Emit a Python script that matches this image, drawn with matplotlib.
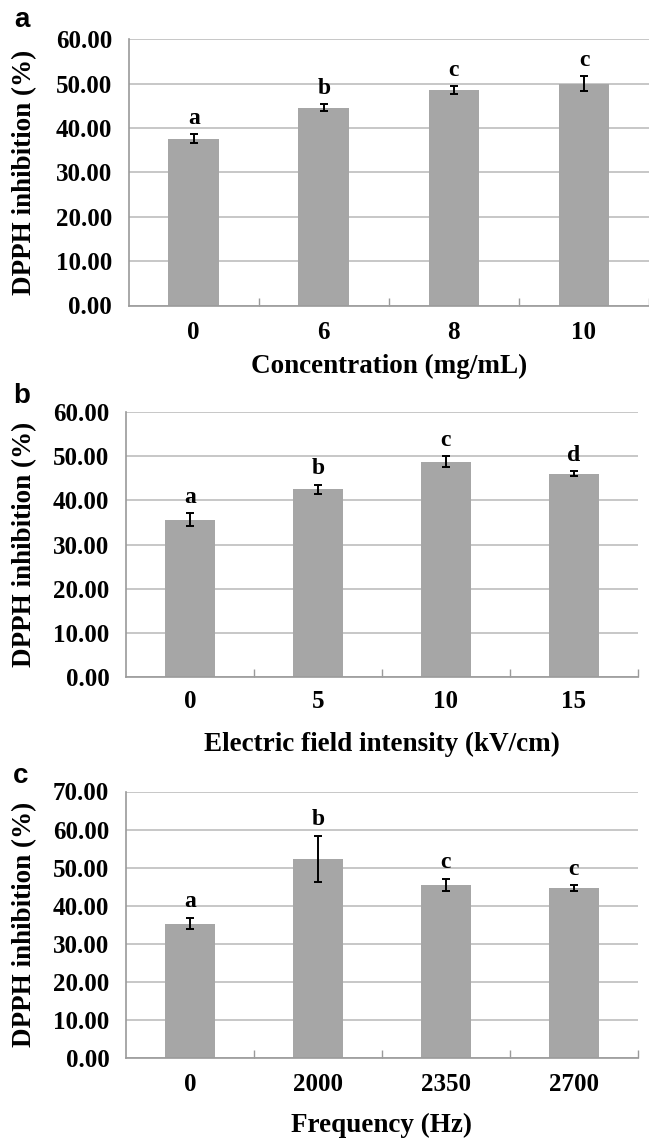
import matplotlib
matplotlib.use("Agg")
import matplotlib.pyplot as plt
from matplotlib.ticker import FormatStrFormatter, FixedLocator

# ---- data ----
conc_labels = ["0", "6", "8", "10"]
conc_values = [37.6, 44.6, 48.5, 50.0]
conc_errors = [1.0, 0.8, 0.9, 1.7]
conc_letters = ["a", "b", "c", "c"]

field_labels = ["0", "5", "10", "15"]
field_values = [35.6, 42.5, 48.7, 46.0]
field_errors = [1.5, 1.0, 1.3, 0.6]
field_letters = ["a", "b", "c", "d"]

freq_labels = ["0", "2000", "2350", "2700"]
freq_values = [35.3, 52.3, 45.5, 44.6]
freq_errors = [1.5, 6.1, 1.6, 0.8]
freq_letters = ["a", "b", "c", "c"]

ylabel = "DPPH inhibition (%)"
xlabels = ["Concentration (mg/mL)", "Electric field intensity (kV/cm)", "Frequency (Hz)"]
panel_tags = ["a", "b", "c"]
ymaxes = [60, 60, 70]

W, H = 649, 1140
fig = plt.figure(figsize=(W / 100, H / 100), dpi=100)

SERIF = ["Liberation Serif", "DejaVu Serif"]
SANS = ["Liberation Sans", "DejaVu Sans"]
BAR_C = "#a6a6a6"
GRID_C = "#bdbdbd"
SPINE_C = "#9a9a9a"

# axes boxes in pixels: left, right, top, bottom
boxes = [
    (128.7, 649.0, 39.3, 305.5),
    (126.0, 637.7, 411.7, 677.3),
    (126.0, 637.7, 791.5, 1058.0),
]
xtick_pads = [11, 9, 11]
xlabel_pads = [7, 14, 12]
tag_pos = [(14, 20), (13, 396), (13, 776)]

panels = [
    (conc_labels, conc_values, conc_errors, conc_letters),
    (field_labels, field_values, field_errors, field_letters),
    (freq_labels, freq_values, freq_errors, freq_letters),
]

for i, (labels, vals, errs, letters) in enumerate(panels):
    l, r, t, b = boxes[i]
    ax = fig.add_axes([l / W, 1 - b / H, (r - l) / W, (b - t) / H])
    x = list(range(len(labels)))
    ax.bar(x, vals, width=0.39, color=BAR_C, zorder=2)
    ax.errorbar(x, vals, yerr=errs, fmt="none", ecolor="black",
                elinewidth=1.4, capsize=3.2, capthick=1.4, zorder=3)
    for xi, v, e, s in zip(x, vals, errs, letters):
        ax.annotate(s, (xi, v + e), xytext=(0, 7.5), textcoords="offset points",
                    ha="center", va="baseline", fontsize=17, fontweight="bold",
                    family=SERIF)
    ax.set_xlim(-0.5, len(labels) - 0.5)
    ax.set_ylim(0, ymaxes[i])
    ax.set_yticks(range(0, ymaxes[i] + 1, 10))
    ax.yaxis.set_major_formatter(FormatStrFormatter("%.2f"))
    ax.set_xticks(x)
    ax.set_xticklabels(labels)
    ax.xaxis.set_minor_locator(FixedLocator([k + 0.5 for k in x]))
    ax.tick_params(axis="x", which="major", length=0, pad=xtick_pads[i])
    ax.tick_params(axis="x", which="minor", length=6, direction="in",
                   color=SPINE_C, width=1)
    ax.tick_params(axis="y", length=0, pad=12)
    for lab in ax.get_xticklabels() + ax.get_yticklabels():
        lab.set_family(SERIF)
        lab.set_fontweight("bold")
        lab.set_fontsize(18)
    ax.yaxis.grid(True, color=GRID_C, linewidth=1.2, zorder=0)
    ax.set_axisbelow(True)
    for sp in ["top", "right"]:
        ax.spines[sp].set_visible(False)
    for sp in ["left", "bottom"]:
        ax.spines[sp].set_color(SPINE_C)
        ax.spines[sp].set_linewidth(1.2)
    ax.set_ylabel(ylabel, family=SERIF, fontweight="bold", fontsize=19.5)
    ax.yaxis.set_label_coords(-(l - 37) / (r - l), 0.5)
    ax.set_xlabel(xlabels[i], family=SERIF, fontweight="bold", fontsize=19.5,
                  labelpad=xlabel_pads[i])
    tx, ty = tag_pos[i]
    fig.text(tx / W, 1 - ty / H, panel_tags[i], family=SANS, fontweight="bold",
             fontsize=20, ha="left", va="center")

fig.savefig("out.png", dpi=100)
